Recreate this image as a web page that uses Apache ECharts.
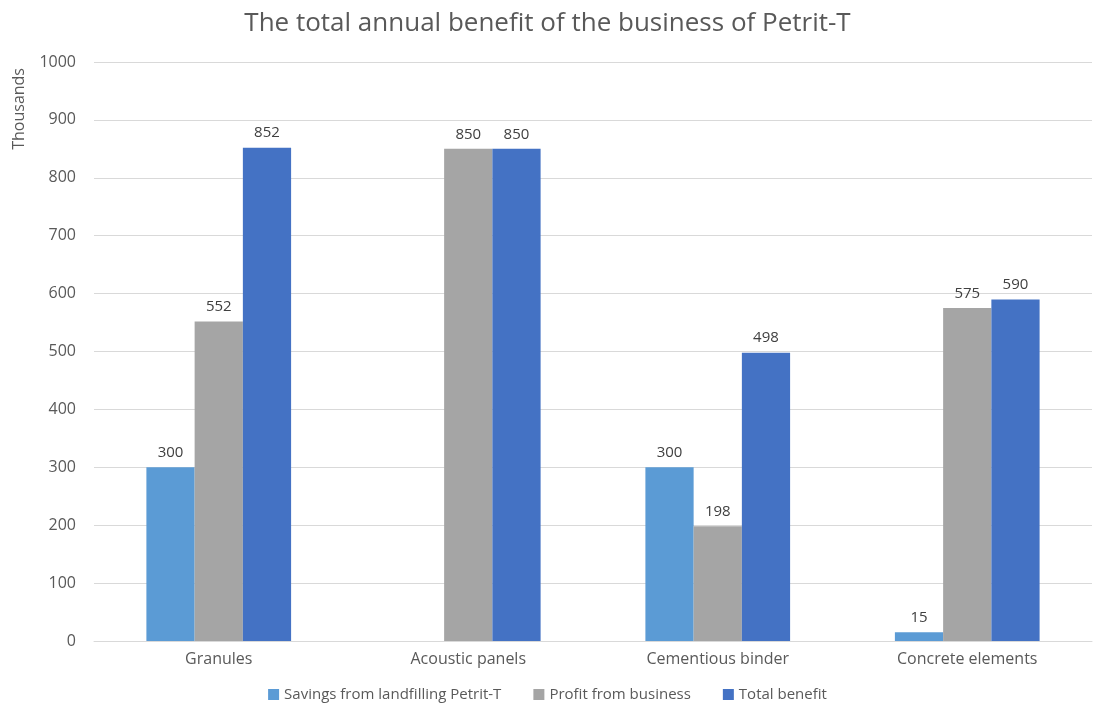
<!DOCTYPE html>
<html><head><meta charset="utf-8">
<script src="https://cdn.jsdelivr.net/npm/echarts@6/dist/echarts.min.js"></script>
<style>html,body{margin:0;padding:0;background:#fff}#c{width:1095px;height:706px}</style>
</head><body><div id="c"></div>
<script>
const categories = ['Granules', 'Acoustic panels', 'Cementious binder', 'Concrete elements'];
const savings = [300, null, 300, 15];
const profit = [552, 850, 198, 575];
const total = [852, 850, 498, 590];
const yTicks = { min: 0, max: 1000, interval: 100 };

const FONT = '"Open Sans", "Noto Sans", sans-serif';
const chart = echarts.init(document.getElementById('c'));
const lbl = { show: true, position: 'top', color: '#404040', fontSize: 15, fontFamily: FONT, distance: 7 };
chart.setOption({
  animation: false,
  title: { text: 'The total annual benefit of the business of Petrit-T', left: 'center', top: 6,
    textStyle: { fontFamily: FONT, fontSize: 26, fontWeight: 'normal', color: '#595959' } },
  grid: { left: 94, right: 3, top: 62, bottom: 65 },
  legend: { top: 682, left: 'center', itemWidth: 11, itemHeight: 11, itemGap: 32, icon: 'rect',
    textStyle: { fontFamily: FONT, fontSize: 15, color: '#595959' } },
  graphic: [{ type: 'text', left: 11, top: 68, rotation: Math.PI / 2, style: { text: 'Thousands', fontFamily: FONT, fontSize: 16, fill: '#595959' } }],
  xAxis: { type: 'category', data: categories, axisTick: { show: false },
    axisLine: { lineStyle: { color: '#d9d9d9' } },
    axisLabel: { fontFamily: FONT, fontSize: 16, color: '#595959', margin: 10 } },
  yAxis: { type: 'value', min: yTicks.min, max: yTicks.max, interval: yTicks.interval,
    axisLine: { show: false }, axisTick: { show: false },
    splitLine: { lineStyle: { color: '#d9d9d9' } },
    axisLabel: { fontFamily: FONT, fontSize: 16, color: '#595959', margin: 18, formatter: v => String(v) } },
  series: [
    { name: 'Savings from landfilling Petrit-T', type: 'bar', data: savings, itemStyle: { color: '#5B9BD5' }, label: lbl, barGap: '0%', barCategoryGap: '42%' },
    { name: 'Profit from business', type: 'bar', data: profit, itemStyle: { color: '#A5A5A5' }, label: lbl, barGap: '0%', barCategoryGap: '42%' },
    { name: 'Total benefit', type: 'bar', data: total, itemStyle: { color: '#4472C4' }, label: lbl, barGap: '0%', barCategoryGap: '42%' }
  ]
});
</script></body></html>
